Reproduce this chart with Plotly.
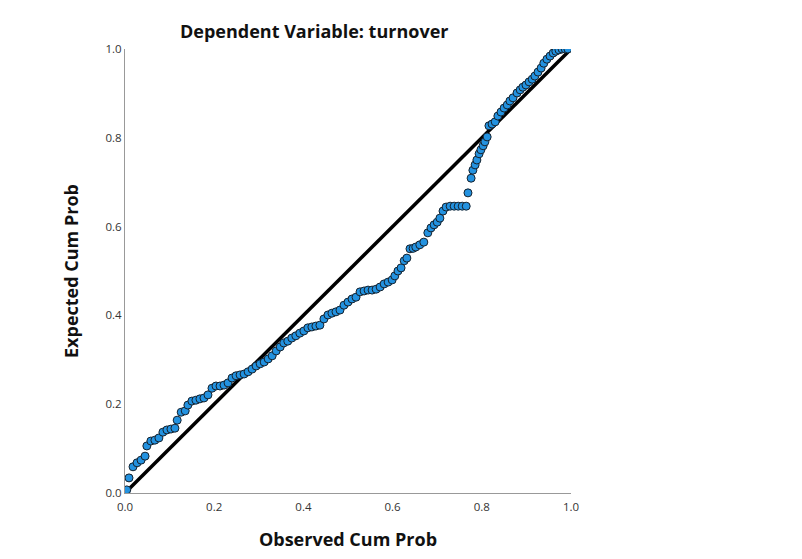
import plotly.graph_objects as go

observed = [0.004, 0.009, 0.018, 0.027, 0.036, 0.045, 0.049, 0.058, 0.067, 0.076,
            0.085, 0.094, 0.103, 0.112, 0.117, 0.126, 0.135, 0.141, 0.150, 0.159,
            0.168, 0.177, 0.186, 0.195, 0.204, 0.213, 0.222, 0.231, 0.240, 0.249,
            0.258, 0.267, 0.276, 0.285, 0.294, 0.303, 0.312, 0.321, 0.330, 0.339,
            0.348, 0.356, 0.365, 0.374, 0.383, 0.392, 0.401, 0.410, 0.419, 0.428,
            0.437, 0.446, 0.455, 0.464, 0.473, 0.482, 0.491, 0.500, 0.509, 0.518,
            0.527, 0.536, 0.545, 0.554, 0.563, 0.572, 0.581, 0.590, 0.599, 0.605,
            0.612, 0.619, 0.626, 0.632, 0.639, 0.646, 0.652, 0.661, 0.670, 0.679,
            0.686, 0.693, 0.700, 0.706, 0.713, 0.720, 0.729, 0.738, 0.747, 0.756,
            0.765, 0.769, 0.776, 0.780, 0.785, 0.789, 0.794, 0.798, 0.803, 0.807,
            0.812, 0.816, 0.823, 0.830, 0.836, 0.843, 0.850, 0.857, 0.863, 0.870,
            0.879, 0.886, 0.892, 0.899, 0.906, 0.913, 0.919, 0.926, 0.933, 0.939,
            0.946, 0.953, 0.960, 0.966, 0.973, 0.980, 0.987, 0.993]
expected = [0.007, 0.034, 0.059, 0.068, 0.074, 0.083, 0.106, 0.117, 0.119, 0.124,
            0.137, 0.142, 0.144, 0.146, 0.164, 0.182, 0.185, 0.198, 0.207, 0.209,
            0.212, 0.214, 0.221, 0.236, 0.241, 0.241, 0.243, 0.248, 0.259, 0.264,
            0.266, 0.268, 0.273, 0.279, 0.286, 0.291, 0.295, 0.302, 0.309, 0.320,
            0.329, 0.338, 0.342, 0.349, 0.354, 0.360, 0.365, 0.372, 0.374, 0.376,
            0.378, 0.392, 0.401, 0.405, 0.408, 0.412, 0.423, 0.430, 0.437, 0.441,
            0.453, 0.455, 0.457, 0.457, 0.459, 0.464, 0.471, 0.475, 0.480, 0.489,
            0.500, 0.507, 0.523, 0.529, 0.550, 0.551, 0.554, 0.559, 0.565, 0.586,
            0.597, 0.604, 0.610, 0.619, 0.635, 0.644, 0.646, 0.646, 0.646, 0.646,
            0.646, 0.676, 0.709, 0.727, 0.739, 0.750, 0.764, 0.773, 0.782, 0.791,
            0.802, 0.827, 0.831, 0.836, 0.849, 0.858, 0.867, 0.874, 0.883, 0.890,
            0.901, 0.908, 0.914, 0.919, 0.926, 0.932, 0.939, 0.948, 0.957, 0.968,
            0.977, 0.984, 0.991, 0.995, 0.998, 1.000, 1.000, 1.000]

ref_line = [0.0, 1.0]
tick_vals = [0.0, 0.2, 0.4, 0.6, 0.8, 1.0]
tick_text = ["0.0", "0.2", "0.4", "0.6", "0.8", "1.0"]

fig = go.Figure()
fig.add_trace(go.Scatter(x=ref_line, y=ref_line, mode="lines",
                         line=dict(color="black", width=3.5), hoverinfo="skip"))
fig.add_trace(go.Scatter(x=observed, y=expected, mode="markers",
                         marker=dict(size=8, color="#2392e0",
                                     line=dict(color="#15212c", width=1))))

fig.update_layout(
    width=802, height=559,
    margin=dict(l=125, r=231, t=49, b=66),
    paper_bgcolor="white", plot_bgcolor="white",
    showlegend=False,
    font=dict(family="Open Sans", color="#222"),
    annotations=[
        dict(text="<b>Dependent Variable: turnover</b>", xref="paper", yref="paper",
             x=0.424, y=1.0, yshift=4, xanchor="center", yanchor="bottom",
             showarrow=False, font=dict(size=18, color="#111")),
    ],
)
fig.update_xaxes(range=[0, 1], tickvals=tick_vals, ticktext=tick_text,
                 showgrid=False, zeroline=False, showline=True, linecolor="#999",
                 linewidth=1, ticks="", tickfont=dict(size=11.5, color="#333"),
                 ticklabelstandoff=3,
                 title=dict(text="<b>Observed Cum Prob</b>", font=dict(size=18, color="#111"),
                            standoff=20))
fig.update_yaxes(range=[0, 1], tickvals=tick_vals, ticktext=tick_text,
                 showgrid=False, zeroline=False, showline=True, linecolor="#999",
                 linewidth=1, ticks="", tickfont=dict(size=11.5, color="#333"),
                 title=dict(text="<b>Expected Cum Prob</b>", font=dict(size=18, color="#111"),
                            standoff=22))

fig.write_html("out.html")
